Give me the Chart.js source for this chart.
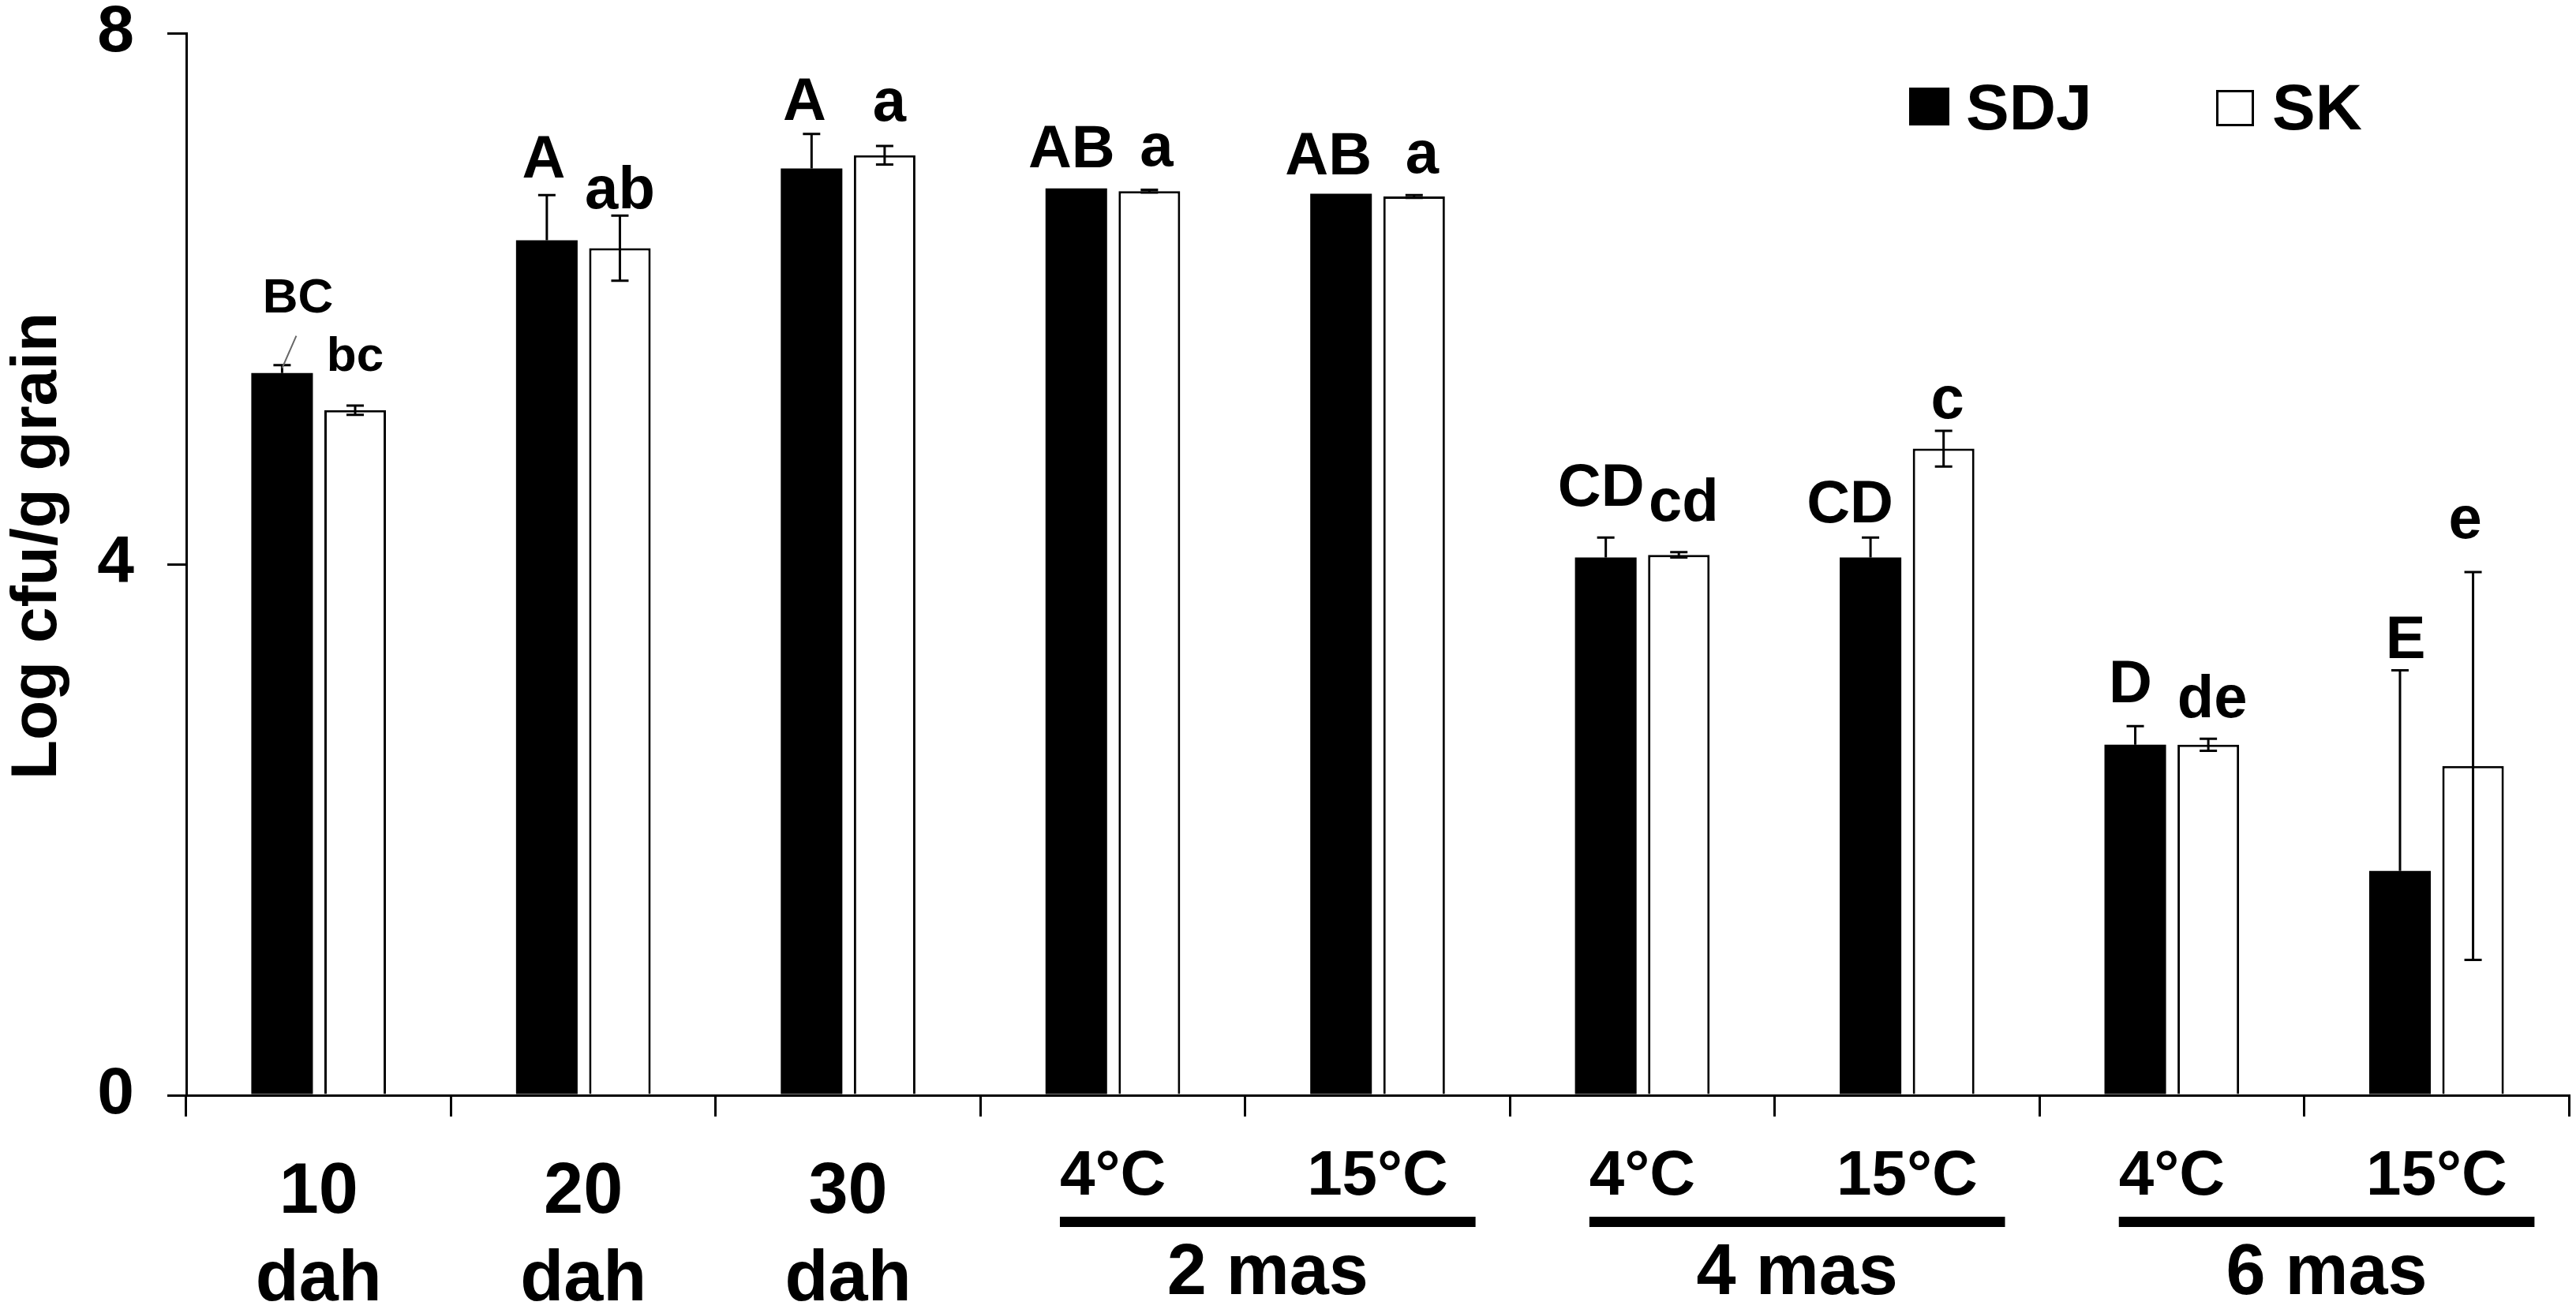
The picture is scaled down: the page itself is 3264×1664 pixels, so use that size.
<!DOCTYPE html>
<html>
<head>
<meta charset="utf-8">
<script src="https://cdn.jsdelivr.net/npm/chart.js@4.4.0/dist/chart.umd.min.js"></script>
<style>
  html, body { margin: 0; padding: 0; background: #fff; }
  canvas { display: block; }
</style>
</head>
<body>
<canvas id="cfuChart" width="3264" height="1664"></canvas>
<script>
// x categories (days after heading, then storage temperature)
const categories = [['10', 'dah'], ['20', 'dah'], ['30', 'dah'], '4°C', '15°C', '4°C', '15°C', '4°C', '15°C'];
const storageGroups = ['2 mas', '4 mas', '6 mas'];
const groupRanges = [[3, 4], [5, 6], [7, 8]];
const seriesNames = ['SDJ', 'SK'];

// Log cfu/g grain
const sdjValues = [5.44, 6.44, 6.98, 6.83, 6.79, 4.05, 4.05, 2.64, 1.69];
const sdjErrors = [0.06, 0.34, 0.26, 0, 0, 0.15, 0.15, 0.14, 1.51];
const skValues = [5.16, 6.38, 7.08, 6.81, 6.77, 4.07, 4.87, 2.64, 2.48];
const skErrors = [0.035, 0.245, 0.07, 0.01, 0.01, 0.02, 0.135, 0.045, 1.46];

// significance letters
const sdjLetters = ['BC', 'A', 'A', 'AB', 'AB', 'CD', 'CD', 'D', 'E'];
const skLetters = ['bc', 'ab', 'a', 'a', 'a', 'cd', 'c', 'de', 'e'];

const yTicks = [0, 4, 8];

// small pixel nudges [dx, gap above error bar] for the letters
const sdjNudge = [[20, 67], [-4, 22], [-9, 18], [-6, 27], [-16, 25], [-6, 40], [-26, 19], [-6, 30], [7, 16]];
const skNudge = [[0, 44], [0, 9], [6, 32], [9, 31], [10, 28], [6, 40], [5, 16], [5, 27], [-10, 43]];

const FAMILY = '"Liberation Sans", Arial, sans-serif';
Chart.defaults.font.family = FAMILY;
Chart.defaults.color = '#000';

const extras = {
  id: 'extras',
  afterDatasetsDraw(chart) {
    const ctx = chart.ctx;
    const y = chart.scales.y;
    const x = chart.scales.x;
    const sets = [
      { values: sdjValues, errors: sdjErrors, letters: sdjLetters, nudge: sdjNudge, both: false },
      { values: skValues, errors: skErrors, letters: skLetters, nudge: skNudge, both: true }
    ];
    ctx.save();
    ctx.strokeStyle = '#000';
    ctx.fillStyle = '#000';
    ctx.lineWidth = 3;
    sets.forEach(function (s, d) {
      const meta = chart.getDatasetMeta(d);
      meta.data.forEach(function (bar, i) {
        const v = s.values[i];
        const e = s.errors[i];
        const top = y.getPixelForValue(v + e);
        if (e > 0) {
          const bottom = s.both ? y.getPixelForValue(v - e) : y.getPixelForValue(v);
          ctx.beginPath();
          ctx.moveTo(bar.x, top);
          ctx.lineTo(bar.x, bottom);
          ctx.moveTo(bar.x - 11, top);
          ctx.lineTo(bar.x + 11, top);
          if (s.both) {
            ctx.moveTo(bar.x - 11, bottom);
            ctx.lineTo(bar.x + 11, bottom);
          }
          ctx.stroke();
        }
        // letters
        const size = i === 0 ? 62 : 76;
        ctx.font = 'bold ' + size + 'px ' + FAMILY;
        ctx.textAlign = 'center';
        ctx.textBaseline = 'alphabetic';
        ctx.fillText(s.letters[i], bar.x + s.nudge[i][0], top - s.nudge[i][1]);
        // leader line from BC down to its bar
        if (d === 0 && i === 0) {
          ctx.save();
          ctx.strokeStyle = '#666';
          ctx.lineWidth = 2;
          ctx.beginPath();
          ctx.moveTo(bar.x + 18, top - 37);
          ctx.lineTo(bar.x, top + 4);
          ctx.stroke();
          ctx.restore();
        }
      });
    });

    // storage month groups under the axis
    const catW = x.getPixelForValue(1) - x.getPixelForValue(0);
    storageGroups.forEach(function (g, k) {
      const x0 = x.getPixelForValue(groupRanges[k][0]) - 0.2 * catW;
      const x1 = x.getPixelForValue(groupRanges[k][1]) + 0.37 * catW;
      ctx.fillRect(x0, 1542, x1 - x0, 13);
      ctx.font = 'bold 90px ' + FAMILY;
      ctx.textAlign = 'center';
      ctx.textBaseline = 'alphabetic';
      ctx.fillText(g, (x0 + x1) / 2, 1640);
    });

    // legend
    ctx.font = 'bold 82px ' + FAMILY;
    ctx.textAlign = 'left';
    ctx.textBaseline = 'alphabetic';
    ctx.fillRect(2419, 111, 51, 48);
    ctx.fillText(seriesNames[0], 2491, 164);
    ctx.lineWidth = 3;
    ctx.strokeRect(2809.5, 115.5, 45, 43);
    ctx.fillText(seriesNames[1], 2879, 164);

    // y axis title
    ctx.translate(48, 692);
    ctx.rotate(-Math.PI / 2);
    ctx.textAlign = 'center';
    ctx.textBaseline = 'middle';
    ctx.font = 'bold 82px ' + FAMILY;
    ctx.fillText('Log cfu/g grain', 0, 0);
    ctx.restore();
  }
};

new Chart(document.getElementById('cfuChart'), {
  type: 'bar',
  data: {
    labels: categories,
    datasets: [
      {
        label: seriesNames[0],
        data: sdjValues,
        backgroundColor: '#000',
        borderColor: '#000',
        borderWidth: 0,
        categoryPercentage: 0.552,
        barPercentage: 0.843
      },
      {
        label: seriesNames[1],
        data: skValues,
        backgroundColor: '#fff',
        borderColor: '#000',
        borderWidth: 3,
        categoryPercentage: 0.552,
        barPercentage: 0.843
      }
    ]
  },
  options: {
    responsive: false,
    animation: false,
    devicePixelRatio: 1,
    layout: { padding: { top: 42, right: 9, left: 0, bottom: 0 } },
    plugins: {
      legend: { display: false },
      tooltip: { enabled: false }
    },
    scales: {
      x: {
        grid: {
          offset: true,
          drawOnChartArea: false,
          color: '#000',
          lineWidth: 3,
          tickLength: 27
        },
        border: { display: true, color: '#000', width: 3 },
        ticks: {
          padding: 42,
          maxRotation: 0,
          autoSkip: false,
          color: '#000',
          font: function (c) {
            return c.index < 3
              ? { size: 90, weight: 'bold', lineHeight: 1.233 }
              : { size: 80, weight: 'bold', lineHeight: 0.875 };
          }
        },
        afterFit: function (s) {
          s.height = 276;
          s.paddingLeft = 0;
          s.paddingRight = 0;
        }
      },
      y: {
        min: 0,
        max: 8,
        afterBuildTicks: function (s) {
          s.ticks = yTicks.map(function (v) { return { value: v }; });
        },
        grid: {
          drawOnChartArea: false,
          color: '#000',
          lineWidth: 3,
          tickLength: 24
        },
        border: { display: true, color: '#000', width: 3 },
        ticks: {
          padding: 42,
          color: '#000',
          font: { size: 84, weight: 'bold' }
        },
        afterFit: function (s) {
          s.width = 236;
          s.paddingTop = 0;
          s.paddingBottom = 0;
        }
      }
    }
  },
  plugins: [extras]
});
</script>
</body>
</html>
